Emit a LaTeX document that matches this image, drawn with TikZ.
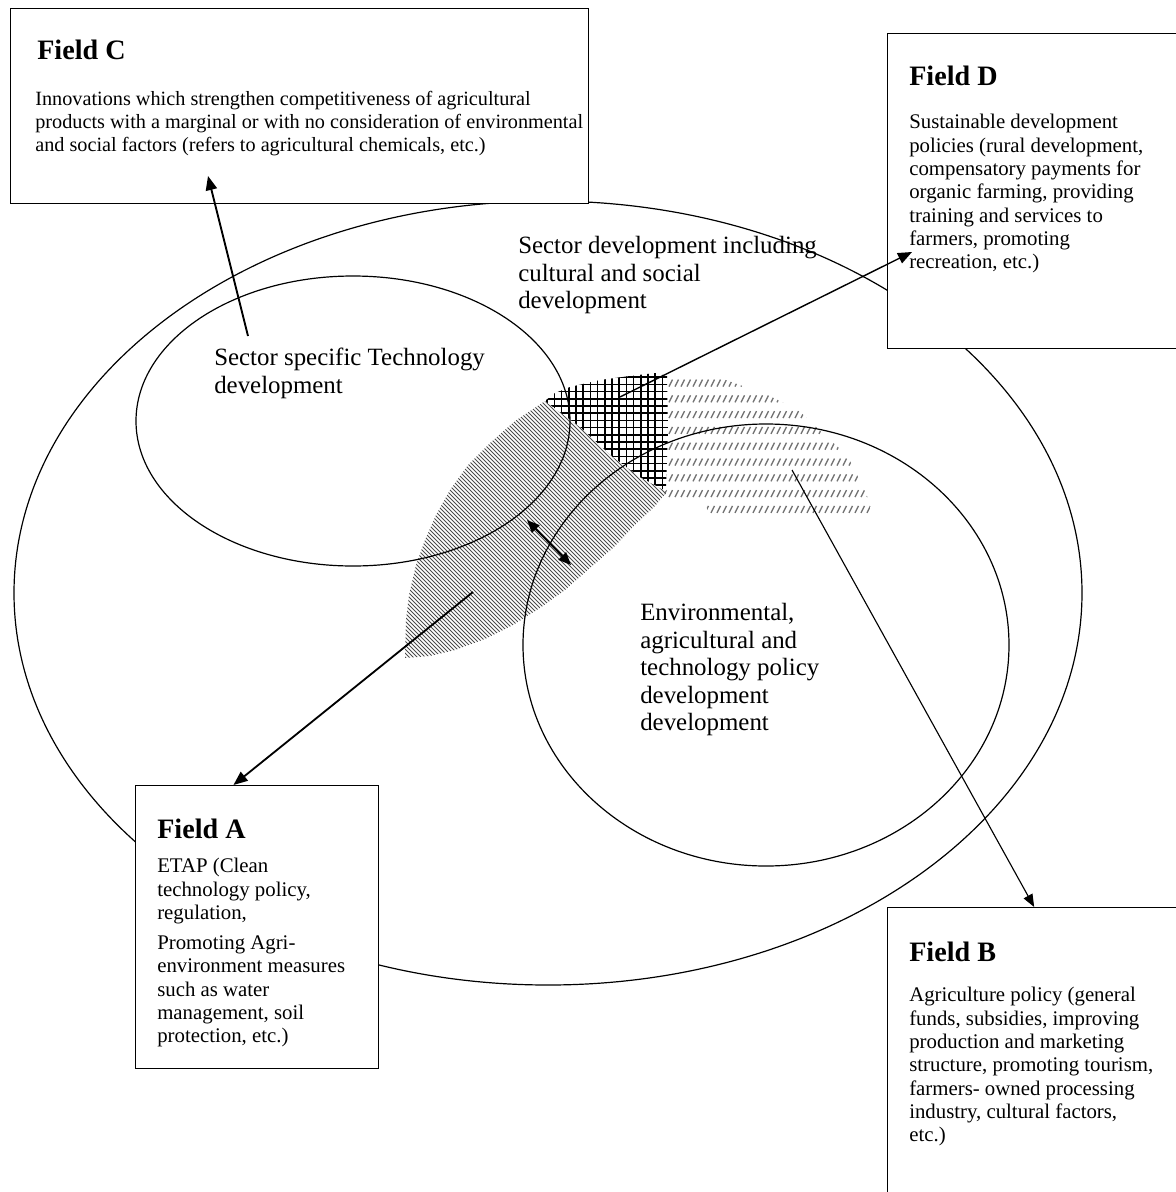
\documentclass[tikz,border=0pt]{standalone}
\usepackage{fontspec}
\setmainfont{Liberation Serif}
\usetikzlibrary{arrows.meta,calc}

\begin{document}
\begin{tikzpicture}[x=0.025cm,y=-0.025cm,
  fieldbox/.style={draw,fill=white,line width=0.9pt,anchor=north west,inner sep=0pt},
  ring/.style={line width=0.85pt},
  fieldtitle/.style={anchor=north west,inner sep=0pt,font=\fontsize{20pt}{24pt}\selectfont\bfseries},
  fieldtext/.style={anchor=north west,inner sep=0pt,align=left,font=\fontsize{14.8pt}{16.6pt}\selectfont},
  ringtext/.style={anchor=north west,inner sep=0pt,align=left,font=\fontsize{17.7pt}{19.6pt}\selectfont},
  pointer/.style={line width=1.3pt,-{Triangle[length=10pt,width=8pt]}},
  thinpointer/.style={line width=0.8pt,-{Triangle[length=9pt,width=7pt]}}]
\useasboundingbox (0,0) rectangle (1176,1192);

% dashed area (right)
\begin{scope}
\clip (657,373) -- (690,374) -- (717,377) -- (763,393) -- (797,409) -- (813,424) -- (830,440) -- (847,455) -- (855,471) -- (863,487) -- (870,503) -- (871,515) -- (708,515) -- (706,502) -- (665,499) -- cycle;
\foreach \row in {0,...,8}
\foreach \col in {0,...,36}
{
\draw[black!55,line width=0.95pt] (657+6*\col,386.5+15.8*\row) -- ++(3.5,-7);
}
\end{scope}

% striped leaf
\begin{scope}
\clip (405,658) -- (406,620) -- (409,595) -- (416,565) -- (425,540) -- (436,515) -- (450,490) -- (468,465) -- (490,443) -- (515,421) -- (545,401) -- (580,427) -- (613,457) -- (640,477) -- (667,492) -- (655,506) -- (635,525) -- (613,548) -- (590,568) -- (565,590) -- (540,608) -- (513,625) -- (485,639) -- (455,650) -- (430,656) -- cycle;
\foreach \s in {-260,-256,...,300}
{
\draw[black!70,line width=0.55pt] (\s+370,370) -- ++(300,300);
}
\end{scope}

% cross hatched patch
\begin{scope}
\clip (545,401) -- (555,393) -- (570,387) -- (600,380) -- (630,376) -- (655,373) -- (667,376) -- (668,430) -- (666,491) -- (640,477) -- (613,457) -- (580,427) -- cycle;
\fill[white] (540,370) rectangle (670,495);
\foreach \k in {0,...,18}
{
\draw[line width=1.2pt] (540+7.2*\k,370) -- (540+7.2*\k,495);
\draw[line width=1.2pt] (540,370+7.2*\k) -- (670,370+7.2*\k);
}
\end{scope}

% rings
\draw[ring] (548,593) ellipse [x radius=534, y radius=392];
\draw[ring] (353,421) ellipse [x radius=217, y radius=145];
\draw[ring] (766,645) ellipse [x radius=243, y radius=221];

\node[ringtext] (sectorDev) at (518,236) {Sector development including\\cultural and social\\development};
\node[ringtext] (techDev) at (214,348) {Sector specific Technology\\development};
\node[ringtext] (policyDev) at (640,603) {Environmental,\\agricultural and\\technology policy\\development\\development};

% boxes
\node[fieldbox,minimum width=14.45cm,minimum height=4.875cm] (fieldC) at (10,8) {};
\node[fieldbox,minimum width=7.325cm,minimum height=7.875cm] (fieldD) at (887,33) {};
\node[fieldbox,minimum width=6.075cm,minimum height=7.075cm] (fieldA) at (135,785) {};
\node[fieldbox,minimum width=7.325cm,minimum height=7.4cm] (fieldB) at (887,907) {};

\node[fieldtitle] (titleC) at ([shift={(27,32)}]fieldC.north west) {Field C};
\node[fieldtext,font=\fontsize{14.4pt}{16.4pt}\selectfont] (textC) at ([shift={(25,83)}]fieldC.north west) {Innovations which strengthen competitiveness of agricultural\\products with a marginal or with no consideration of environmental\\and social factors (refers to agricultural chemicals, etc.)};

\node[fieldtitle] (titleD) at ([shift={(22,33)}]fieldD.north west) {Field D};
\node[fieldtext] (textD) at ([shift={(22,81)}]fieldD.north west) {Sustainable development\\policies (rural development,\\compensatory payments for\\organic farming, providing\\training and services to\\farmers, promoting\\recreation, etc.)};

\node[fieldtitle] (titleA) at ([shift={(22,34)}]fieldA.north west) {Field A};
\node[fieldtext] (textA) at ([shift={(22,73)}]fieldA.north west) {ETAP (Clean\\technology policy,\\regulation,\\[4.8pt]Promoting Agri-\\environment measures\\such as water\\management, soil\\protection, etc.)};

\node[fieldtitle] (titleB) at ([shift={(22,35)}]fieldB.north west) {Field B};
\node[fieldtext] (textB) at ([shift={(22,80)}]fieldB.north west) {Agriculture policy (general\\funds, subsidies, improving\\production and marketing\\structure, promoting tourism,\\farmers- owned processing\\industry, cultural factors,\\etc.)};

% arrows
\coordinate (fromC) at (248,336);
\coordinate (tipC) at (208,176);
\coordinate (fromD) at (620,397);
\coordinate (tipD) at (912,252);
\coordinate (fromA) at (473,592);
\coordinate (fromB) at (792,470);
\coordinate (linkL) at (527,520);
\coordinate (linkR) at (571,565);

\draw[pointer] (fromC) -- (tipC);
\draw[pointer,line width=1pt] (fromD) -- (tipD);
\draw[pointer] (fromA) -- ($(fieldA.north west)!0.403!(fieldA.north east)$);
\draw[thinpointer] (fromB) -- (fieldB.north);
\draw[line width=1.3pt,{Triangle[length=9pt,width=7.5pt]}-{Triangle[length=9pt,width=7.5pt]}] (linkL) -- (linkR);
\end{tikzpicture}
\end{document}
